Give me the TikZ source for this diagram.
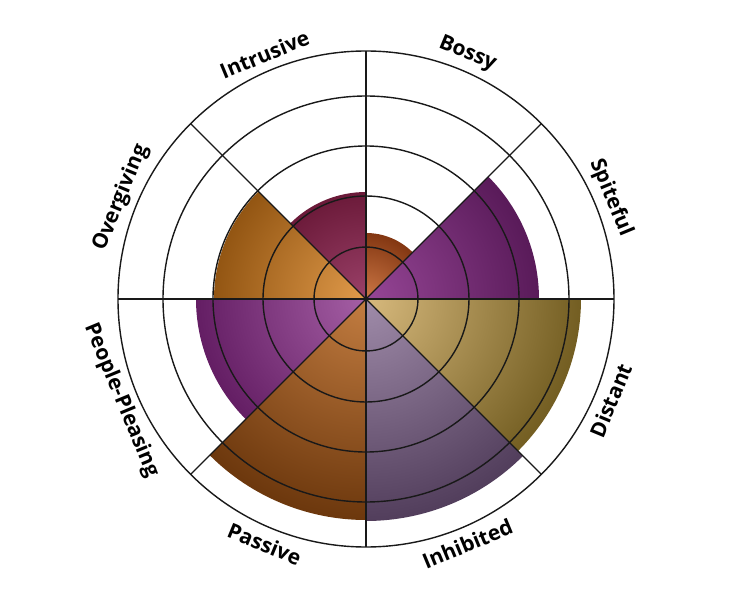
\documentclass[tikz,border=0pt]{standalone}
\usepackage{fontspec}
\setmainfont{Open Sans}
\begin{document}
\begin{tikzpicture}[x=1pt,y=1pt,
  grid/.style={line width=1.4pt,black!90},
  lab/.style={font=\bfseries\fontsize{21}{24}\selectfont}]
\useasboundingbox (-366,-301) rectangle (366,299);
\coordinate (c) at (0,0);
\newcommand{\mywedge}[5]{%
  \begin{scope}
  \clip (c) -- (#1:#3) arc (#1:#2:#3) -- cycle;
  \shade[inner color=#4,outer color=#5] (c) circle (#3*1.15);
  \end{scope}}
\definecolor{boI}{RGB}{205,120,70}\definecolor{boO}{RGB}{120,45,10}
\definecolor{spI}{RGB}{150,70,150}\definecolor{spO}{RGB}{80,20,80}
\definecolor{diI}{RGB}{215,185,125}\definecolor{diO}{RGB}{100,80,20}
\definecolor{inI}{RGB}{160,140,170}\definecolor{inO}{RGB}{70,50,80}
\definecolor{paI}{RGB}{195,125,65}\definecolor{paO}{RGB}{95,45,5}
\definecolor{ppI}{RGB}{165,95,165}\definecolor{ppO}{RGB}{90,20,90}
\definecolor{ovI}{RGB}{225,155,75}\definecolor{ovO}{RGB}{135,75,10}
\definecolor{itI}{RGB}{155,65,105}\definecolor{itO}{RGB}{100,20,50}
\mywedge{45}{90}{66}{boI}{boO}
\mywedge{0}{45}{173}{spI}{spO}
\mywedge{-45}{0}{215}{diI}{diO}
\mywedge{-90}{-45}{222}{inI}{inO}
\mywedge{-135}{-90}{221}{paI}{paO}
\mywedge{-180}{-135}{170}{ppI}{ppO}
\mywedge{135}{180}{152}{ovI}{ovO}
\mywedge{90}{135}{107}{itI}{itO}
\foreach \r in {52,103,153,203} \draw[grid] (c) circle (\r);
\draw[grid] (c) circle (248);
\foreach \a in {0,45,...,315} \draw[grid] (c) -- (\a:248);
\node[lab,rotate=-22.5] at (67.5:265) {Bossy};
\node[lab,rotate=-67.5] at (22.5:265) {Spiteful};
\node[lab,rotate=67.5] at (-22.5:265) {Distant};
\node[lab,rotate=22.5] at (-67.5:265) {Inhibited};
\node[lab,rotate=-22.5] at (-112.5:265) {Passive};
\node[lab,rotate=-67.5] at (-157.5:265) {People-Pleasing};
\node[lab,rotate=67.5] at (157.5:265) {Overgiving};
\node[lab,rotate=22.5] at (112.5:265) {Intrusive};
\end{tikzpicture}
\end{document}
